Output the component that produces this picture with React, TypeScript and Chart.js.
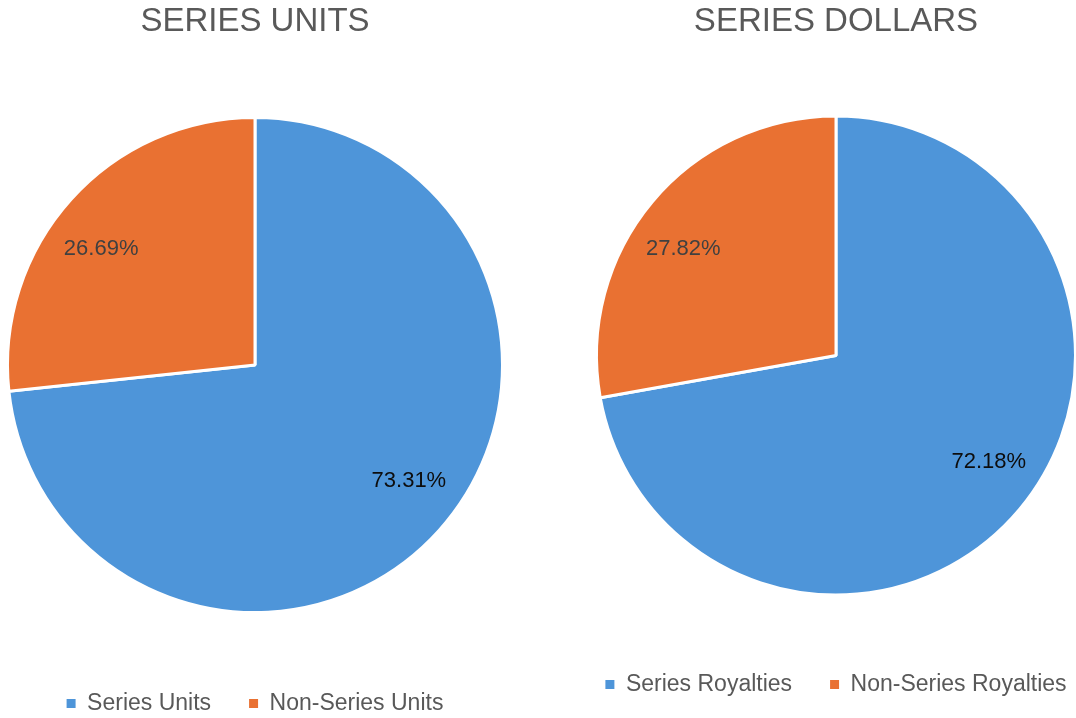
import React, { useEffect, useRef } from "react";
import { Chart, registerables } from "chart.js";

Chart.register(...registerables);

const unitsTitle = "SERIES UNITS";
const unitsLabels = ["Series Units", "Non-Series Units"];
const unitsValues = [73.31, 26.69];

const dollarsTitle = "SERIES DOLLARS";
const dollarsLabels = ["Series Royalties", "Non-Series Royalties"];
const dollarsValues = [72.18, 27.82];

const sliceColors = ["#4E95D9", "#E97132"];
const labelColors = ["#0d0d0d", "#404040"];
const FONT = "'Liberation Sans', Arial, sans-serif";

const pctLabelPlugin = {
  id: "pctLabels",
  afterDatasetsDraw(chart: any) {
    const { ctx } = chart;
    const meta = chart.getDatasetMeta(0);
    const values = chart.data.datasets[0].data as number[];
    ctx.save();
    ctx.font = `22px ${FONT}`;
    ctx.textAlign = "center";
    ctx.textBaseline = "middle";
    meta.data.forEach((arc: any, i: number) => {
      const p = arc.getProps(["x", "y", "startAngle", "endAngle", "outerRadius"], true);
      const mid = (p.startAngle + p.endAngle) / 2 - (5 * Math.PI) / 180;
      const d = p.outerRadius * 0.778;
      ctx.fillStyle = labelColors[i];
      ctx.fillText(values[i].toFixed(2) + "%", p.x + Math.cos(mid) * d, p.y + Math.sin(mid) * d);
    });
    ctx.restore();
  },
};

function Panel(props: {
  left: number;
  width: number;
  height: number;
  title: string;
  labels: string[];
  values: number[];
  radius: number;
  padBottom: number;
}) {
  const ref = useRef<HTMLCanvasElement>(null);
  useEffect(() => {
    const chart = new Chart(ref.current as HTMLCanvasElement, {
      type: "pie",
      data: {
        labels: props.labels,
        datasets: [
          {
            data: props.values,
            backgroundColor: sliceColors,
            borderColor: "#ffffff",
            borderWidth: 3,
            radius: props.radius,
          } as any,
        ],
      },
      options: {
        responsive: false,
        animation: false,
        layout: {
          padding: { left: 0, right: 0, top: 0, bottom: props.padBottom },
        },
        plugins: {
          title: {
            display: true,
            text: props.title,
            color: "#595959",
            font: { family: FONT, size: 33, weight: "normal" as any, lineHeight: 1.2 },
            padding: { top: 1.7, bottom: 34.7 },
          },
          legend: {
            position: "bottom",
            labels: {
              color: "#595959",
              font: { family: FONT, size: 23 },
              boxWidth: 9,
              boxHeight: 9,
              padding: 38,
              generateLabels: (c: any) =>
                (Chart as any).overrides.pie.plugins.legend.labels
                  .generateLabels(c)
                  .map((l: any) => ({ ...l, lineWidth: 0, strokeStyle: "rgba(0,0,0,0)" })),
            },
          },
          tooltip: { enabled: false },
        },
      },
      plugins: [pctLabelPlugin],
    });
    return () => chart.destroy();
  }, []);
  return (
    <canvas
      ref={ref}
      width={props.width}
      height={props.height}
      style={{ position: "absolute", left: props.left, top: 0, width: props.width, height: props.height }}
    />
  );
}

export default function App() {
  return (
    <div
      style={{
        position: "fixed",
        left: 0,
        top: 0,
        width: 1076,
        height: 718,
        overflow: "hidden",
        background: "#ffffff",
      }}
    >
      <Panel
        left={0}
        width={510}
        height={725}
        title={unitsTitle}
        labels={unitsLabels}
        values={unitsValues}
        radius={247.5}
        padBottom={0}
      />
      <Panel
        left={551}
        width={570}
        height={718}
        title={dollarsTitle}
        labels={dollarsLabels}
        values={dollarsValues}
        radius={239.5}
        padBottom={12}
      />
    </div>
  );
}
